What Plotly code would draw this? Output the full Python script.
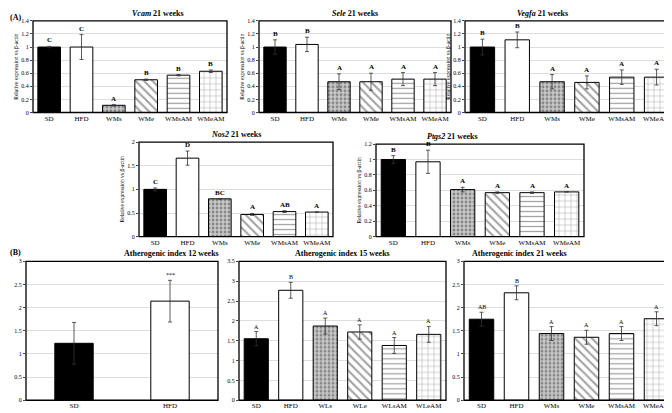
import plotly.graph_objects as go

W, H = 672, 413
groups_a = ["SD", "HFD", "WMs", "WMe", "WMsAM", "WMeAM"]
groups_15 = ["SD", "HFD", "WLs", "WLe", "WLsAM", "WLeAM"]
groups_12 = ["SD", "HFD"]

vcam = [1.0, 1.0, 0.11, 0.50, 0.57, 0.63]
vcam_err = [0.01, 0.19, 0.01, 0.01, 0.01, 0.02]
vcam_lbl = ["C", "C", "A", "B", "B", "B"]
sele = [1.0, 1.04, 0.47, 0.47, 0.51, 0.51]
sele_err = [0.11, 0.11, 0.12, 0.13, 0.10, 0.10]
sele_lbl = ["B", "B", "A", "A", "A", "A"]
vegfa = [1.0, 1.11, 0.47, 0.46, 0.54, 0.54]
vegfa_err = [0.12, 0.12, 0.11, 0.10, 0.11, 0.12]
vegfa_lbl = ["B", "B", "A", "A", "A", "A"]
nos2 = [1.0, 1.66, 0.80, 0.47, 0.53, 0.52]
nos2_err = [0.03, 0.15, 0.0, 0.02, 0.02, 0.0]
nos2_lbl = ["C", "D", "BC", "A", "AB", "A"]
ptgs2 = [1.0, 0.97, 0.61, 0.57, 0.57, 0.58]
ptgs2_err = [0.05, 0.15, 0.03, 0.01, 0.01, 0.0]
ptgs2_lbl = ["B", "B", "A", "A", "A", "A"]
ai12 = [1.23, 2.14]
ai12_err = [0.45, 0.45]
ai12_lbl = ["", "***"]
ai15 = [1.55, 2.77, 1.87, 1.72, 1.38, 1.66]
ai15_err = [0.18, 0.20, 0.20, 0.18, 0.20, 0.20]
ai15_lbl = ["A", "B", "A", "A", "A", "A"]
ai21 = [1.75, 2.32, 1.44, 1.36, 1.44, 1.76]
ai21_err = [0.15, 0.15, 0.15, 0.15, 0.15, 0.15]
ai21_lbl = ["AB", "B", "A", "A", "A", "A"]

fills = ["black", "white", "#c8c8c8", "white", "white", "white"]
shapes = ["", "", ".", "\\", "-", "+"]
fgs = ["black", "black", "#777777", "black", "#444444", "black"]
sizes = [6, 6, 4, 6, 5, 6]
solids = [0.3, 0.3, 0.4, 0.35, 0.25, 0.15]

panels = [
    ("<i>Vcam</i> 21 weeks", groups_a, vcam, vcam_err, vcam_lbl, 1.4, 0.2, (25, 219, 10, 103), True),
    ("<i>Sele</i> 21 weeks", groups_a, sele, sele_err, sele_lbl, 1.4, 0.2, (251, 443, 10, 103), True),
    ("<i>Vegfa</i> 21 weeks", groups_a, vegfa, vegfa_err, vegfa_lbl, 1.4, 0.2, (457, 666, 10, 103), True),
    ("<i>Nos2</i> 21 weeks", groups_a, nos2, nos2_err, nos2_lbl, 2.0, 0.5, (131, 325, 133, 229), True),
    ("<i>Ptgs2</i> 21 weeks", groups_a, ptgs2, ptgs2_err, ptgs2_lbl, 1.2, 0.2, (368, 576, 135, 229), True),
    ("Atherogenic index 12 weeks", groups_12, ai12, ai12_err, ai12_lbl, 3.0, 0.5, (18, 210, 254, 395), False),
    ("Atherogenic index 15 weeks", groups_15, ai15, ai15_err, ai15_lbl, 3.5, 0.5, (231, 438, 254, 395), False),
    ("Atherogenic index 21 weeks", groups_a, ai21, ai21_err, ai21_lbl, 3.0, 0.5, (456, 666, 254, 395), False),
]

fig = go.Figure()
annots = []
shp = []
font = "Liberation Serif"
for i, (title, cats, vals, err, lbl, ymax, dt, box, ylab) in enumerate(panels):
    n = i + 1
    xa = "x" if n == 1 else f"x{n}"
    ya = "y" if n == 1 else f"y{n}"
    x0, x1, y0, y1 = box
    k = len(cats)
    fig.add_trace(go.Bar(
        x=cats, y=vals, xaxis=xa, yaxis=ya, width=0.7 if k > 2 else 0.4,
        marker=dict(color=fills[:k], line=dict(color="black", width=1),
                    pattern=dict(shape=shapes[:k], fgcolor=fgs[:k], size=sizes[:k], solidity=solids[:k])),
        error_y=dict(type="data", array=err, color="#333", thickness=0.8, width=2),
        showlegend=False))
    kx = "xaxis" if n == 1 else f"xaxis{n}"
    ky = "yaxis" if n == 1 else f"yaxis{n}"
    fig.layout[kx] = dict(domain=[x0 / W, x1 / W], anchor=ya, showline=False,
                          tickfont=dict(size=7, family=font, color="black"), ticks="")
    fig.layout[ky] = dict(domain=[1 - y1 / H, 1 - y0 / H], anchor=xa, range=[0, ymax], dtick=dt,
                          showgrid=True, gridcolor="#dddddd", gridwidth=0.5, zeroline=False,
                          tickfont=dict(size=6, family=font, color="black"), ticks="outside",
                          ticklen=2, showline=False,
                          title=dict(text="Relative expression vs β-actin" if ylab else "",
                                     font=dict(size=5.5, family=font, color="black"), standoff=2))
    shp.append(dict(type="rect", xref="paper", yref="paper", x0=x0 / W, x1=x1 / W,
                    y0=1 - y1 / H, y1=1 - y0 / H, line=dict(color="black", width=1.3)))
    annots.append(dict(text=f"<b>{title}</b>", xref="paper", yref="paper", x=(x0 + x1) / 2 / W,
                       y=1 - (y0 - 1) / H, yanchor="bottom", showarrow=False,
                       font=dict(size=8, family=font, color="black")))
    for c, v, e, l in zip(cats, vals, err, lbl):
        if l:
            annots.append(dict(text=f"<b>{l}</b>" if i < 5 else l, x=c, y=v + e, xref=xa, yref=ya,
                               yanchor="bottom", showarrow=False,
                               font=dict(size=7 if i < 5 else 6, family=font, color="black")))

annots.append(dict(text="<b>(A)</b>", xref="paper", yref="paper", x=0, y=1, xanchor="left",
                   yanchor="top", showarrow=False, font=dict(size=8, family=font, color="black")))
annots.append(dict(text="<b>(B)</b>", xref="paper", yref="paper", x=0, y=1 - 238 / H, xanchor="left",
                   yanchor="top", showarrow=False, font=dict(size=8, family=font, color="black")))

fig.update_layout(width=W, height=H, margin=dict(l=0, r=0, t=0, b=0), plot_bgcolor="white",
                  paper_bgcolor="white", annotations=annots, shapes=shp, bargap=0.3,
                  font=dict(family=font, color="black"))
fig.write_html("out.html", config={"responsive": False})
